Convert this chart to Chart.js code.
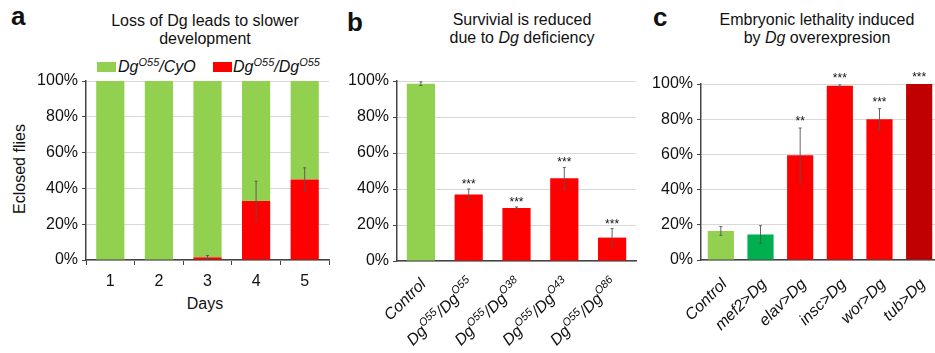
<!DOCTYPE html>
<html><head><meta charset="utf-8">
<script src="https://cdn.jsdelivr.net/npm/chart.js@4.4.0/dist/chart.umd.min.js"></script>
<style>
html,body{margin:0;padding:0;background:#fff;width:935px;height:353px;overflow:hidden;position:relative;font-family:"Liberation Sans",Arial,sans-serif;color:#111}
canvas{position:absolute;top:0}
.t{position:absolute;font-size:16px;text-align:center;line-height:18px;white-space:nowrap;width:300px}
.l{position:absolute;font-size:26px;line-height:26px;font-weight:bold}
.lg{position:absolute;font-size:16px;line-height:16px;font-style:italic;white-space:nowrap}
.lg sup{font-size:11px;vertical-align:6px;line-height:0}
.box{position:absolute;width:19px;height:10px}
.ax{position:absolute;font-size:16px;line-height:16px;white-space:nowrap;text-align:center}
</style>
</head><body>
<div class="l" style="left:11px;top:3px">a</div>
<div class="l" style="left:347px;top:9px">b</div>
<div class="l" style="left:653px;top:4px">c</div>
<div class="t" style="left:55px;top:12px">Loss of Dg leads to slower<br>development</div>
<div class="t" style="left:372px;top:10.5px">Survivial is reduced<br>due to <i>Dg</i> deficiency</div>
<div class="t" style="left:667px;top:10.5px">Embryonic lethality induced<br>by <i>Dg</i> overexpresion</div>
<div class="box" style="left:97px;top:62px;background:#92D050"></div>
<div class="lg" style="left:118px;top:58.5px">Dg<sup>O55</sup>/CyO</div>
<div class="box" style="left:213px;top:62px;background:#FF0000"></div>
<div class="lg" style="left:233px;top:58.5px">Dg<sup>O55</sup>/Dg<sup>O55</sup></div>
<div class="ax" style="left:155px;top:296px;width:100px">Days</div>
<div class="ax" style="left:-40.5px;top:161px;width:120px;transform:rotate(-90deg)">Eclosed flies</div>
<canvas id="ca" width="340" height="353" style="left:0px"></canvas>
<canvas id="cb" width="310" height="353" style="left:330px"></canvas>
<canvas id="cc" width="300" height="353" style="left:640px"></canvas>
<script>
// ---------- data ----------
const daysLabels = ['1', '2', '3', '4', '5'];
const aMutant    = [0, 0, 1.5, 33, 45];          // Dg O55/Dg O55 (red)
const aMutantErr = [null, null, 1, 11, 6.5];
const aHet       = [100, 100, 98.5, 67, 55];     // Dg O55/CyO (green)

const bLabels = ['Control', 'Dg^{O55}/Dg^{O55}', 'Dg^{O55}/Dg^{O38}', 'Dg^{O55}/Dg^{O43}', 'Dg^{O55}/Dg^{O86}'];
const bValues = [98.5, 37, 29.5, 46, 13];
const bErr    = [1, 3, 0.5, 6, 5];
const bStars  = ['', '***', '***', '***', '***'];

const cLabels = ['Control', 'mef2>Dg', 'elav>Dg', 'insc>Dg', 'wor>Dg', 'tub>Dg'];
const cValues = [16.5, 14.5, 59.5, 99, 80, 100];
const cErr    = [2.5, 5, 15.5, 0.5, 6, 0];
const cStars  = ['', '', '**', '***', '***', '***'];

const yMin = 0, yMax = 100, yStep = 20;

// ---------- styling ----------
const F = "'Liberation Sans', Arial, sans-serif";
const GREEN = '#92D050', DGREEN = '#00B050', RED = '#FF0000', DRED = '#C00000';
const AXIS = '#444', GRID = '#d9d9d9', TXT = '#111';

function parseRich(s){
  const parts = []; const re = /\^\{([^}]*)\}/g; let last = 0, m;
  while((m = re.exec(s))){ if(m.index > last) parts.push({t:s.slice(last, m.index), sup:false}); parts.push({t:m[1], sup:true}); last = re.lastIndex; }
  if(last < s.length) parts.push({t:s.slice(last), sup:false});
  return parts;
}
const plainLabel = s => s.replace(/\^\{([^}]*)\}/g, '$1');

const errorBars = {
  id:'errorBars',
  afterDatasetsDraw(chart, args, o){
    if(!o || !o.errors) return;
    const ds = o.dataset || 0, meta = chart.getDatasetMeta(ds), y = chart.scales.y, ctx = chart.ctx;
    const data = chart.data.datasets[ds].data;
    ctx.save();
    o.errors.forEach((e, i) => {
      const bar = meta.data[i]; const v = data[i];
      let top = y.getPixelForValue(v);
      if(e){
        const yt = y.getPixelForValue(v + e), yb = y.getPixelForValue(v - e);
        top = yt;
        ctx.strokeStyle = '#555'; ctx.lineWidth = 0.9;
        ctx.beginPath();
        ctx.moveTo(bar.x, yt); ctx.lineTo(bar.x, yb);
        ctx.moveTo(bar.x - 1.5, yt); ctx.lineTo(bar.x + 1.5, yt);
        ctx.moveTo(bar.x - 1.5, yb); ctx.lineTo(bar.x + 1.5, yb);
        ctx.stroke();
      }
      if(o.stars && o.stars[i]){
        ctx.fillStyle = TXT; ctx.font = '12px ' + F; ctx.textAlign = 'center'; ctx.textBaseline = 'alphabetic';
        ctx.fillText(o.stars[i], bar.x, top - o.gap + 7);
      }
    });
    ctx.restore();
  }
};

const richTicks = {
  id:'richTicks',
  afterDraw(chart, args, o){
    if(!o || !o.labels) return;
    const x = chart.scales.x, ctx = chart.ctx;
    o.labels.forEach((lab, i) => {
      const parts = parseRich(lab);
      const px = x.getPixelForValue(i) + o.dx, py = x.top + o.dy;
      ctx.save();
      ctx.translate(px, py); ctx.rotate(-Math.PI / 4);
      let w = 0;
      parts.forEach(p => { ctx.font = (p.sup ? 'italic 11px ' : 'italic 16px ') + F; p.w = ctx.measureText(p.t).width; w += p.w; });
      let cx = -w;
      ctx.fillStyle = TXT; ctx.textBaseline = 'alphabetic'; ctx.textAlign = 'left';
      parts.forEach(p => { ctx.font = (p.sup ? 'italic 11px ' : 'italic 16px ') + F; ctx.fillText(p.t, cx, p.sup ? 5.5 - 6.5 : 5.5); cx += p.w; });
      ctx.restore();
    });
  }
};

function yScale(width, stacked){
  return {
    stacked: !!stacked, min: yMin, max: yMax,
    ticks: { stepSize: yStep, callback: v => v + '%', color: TXT, font: {family: F, size: 16}, padding: 4 },
    grid: { color: GRID, lineWidth: 1, tickLength: 4, tickColor: AXIS },
    border: { color: AXIS, width: 1.5 },
    afterFit(s){ s.width = width; }
  };
}

const common = { responsive:false, animation:false, events:[] };

// ---------- panel a ----------
new Chart(document.getElementById('ca'), {
  type:'bar',
  data:{ labels: daysLabels, datasets:[
    { label:'DgO55/DgO55', data:aMutant, backgroundColor:RED, barPercentage:0.58, categoryPercentage:1 },
    { label:'DgO55/CyO', data:aHet, backgroundColor:GREEN, barPercentage:0.58, categoryPercentage:1 }
  ]},
  options:{ ...common,
    layout:{ padding:{ top:81, right:11, bottom:0, left:0 } },
    plugins:{ legend:{display:false}, tooltip:{enabled:false}, errorBars:{ dataset:0, errors:aMutantErr } },
    scales:{
      x:{ stacked:true, ticks:{ color:TXT, font:{family:F, size:16}, padding:7 },
          grid:{ drawOnChartArea:false, offset:true, tickLength:5, tickColor:AXIS },
          border:{ color:AXIS, width:1.5 }, afterFit(s){ s.height = 93; } },
      y: yScale(86, true)
    }
  },
  plugins:[errorBars]
});

// ---------- panel b ----------
new Chart(document.getElementById('cb'), {
  type:'bar',
  data:{ labels: bLabels.map(plainLabel), datasets:[
    { data:bValues, backgroundColor:[GREEN, RED, RED, RED, RED], barPercentage:0.59, categoryPercentage:1 }
  ]},
  options:{ ...common,
    layout:{ padding:{ top:81, right:4, bottom:0, left:0 } },
    plugins:{ legend:{display:false}, tooltip:{enabled:false},
      errorBars:{ dataset:0, errors:bErr, stars:bStars, gap:8 },
      richTicks:{ labels:bLabels, dx:2, dy:20 } },
    scales:{
      x:{ ticks:{ display:false }, grid:{ drawOnChartArea:false, drawTicks:false }, border:{ color:AXIS, width:1.5 },
          afterFit(s){ s.height = 92; } },
      y: yScale(67)
    }
  },
  plugins:[errorBars, richTicks]
});

// ---------- panel c ----------
new Chart(document.getElementById('cc'), {
  type:'bar',
  data:{ labels: cLabels, datasets:[
    { data:cValues, backgroundColor:[GREEN, DGREEN, RED, RED, RED, DRED], barPercentage:0.66, categoryPercentage:1 }
  ]},
  options:{ ...common,
    layout:{ padding:{ top:84, right:1, bottom:0, left:0 } },
    plugins:{ legend:{display:false}, tooltip:{enabled:false},
      errorBars:{ dataset:0, errors:cErr, stars:cStars, gap:10 },
      richTicks:{ labels:cLabels, dx:3, dy:21 } },
    scales:{
      x:{ ticks:{ display:false }, grid:{ drawOnChartArea:false, drawTicks:false }, border:{ color:AXIS, width:1.5 },
          afterFit(s){ s.height = 93; } },
      y: yScale(61)
    }
  },
  plugins:[errorBars, richTicks]
});
</script>
</body></html>
